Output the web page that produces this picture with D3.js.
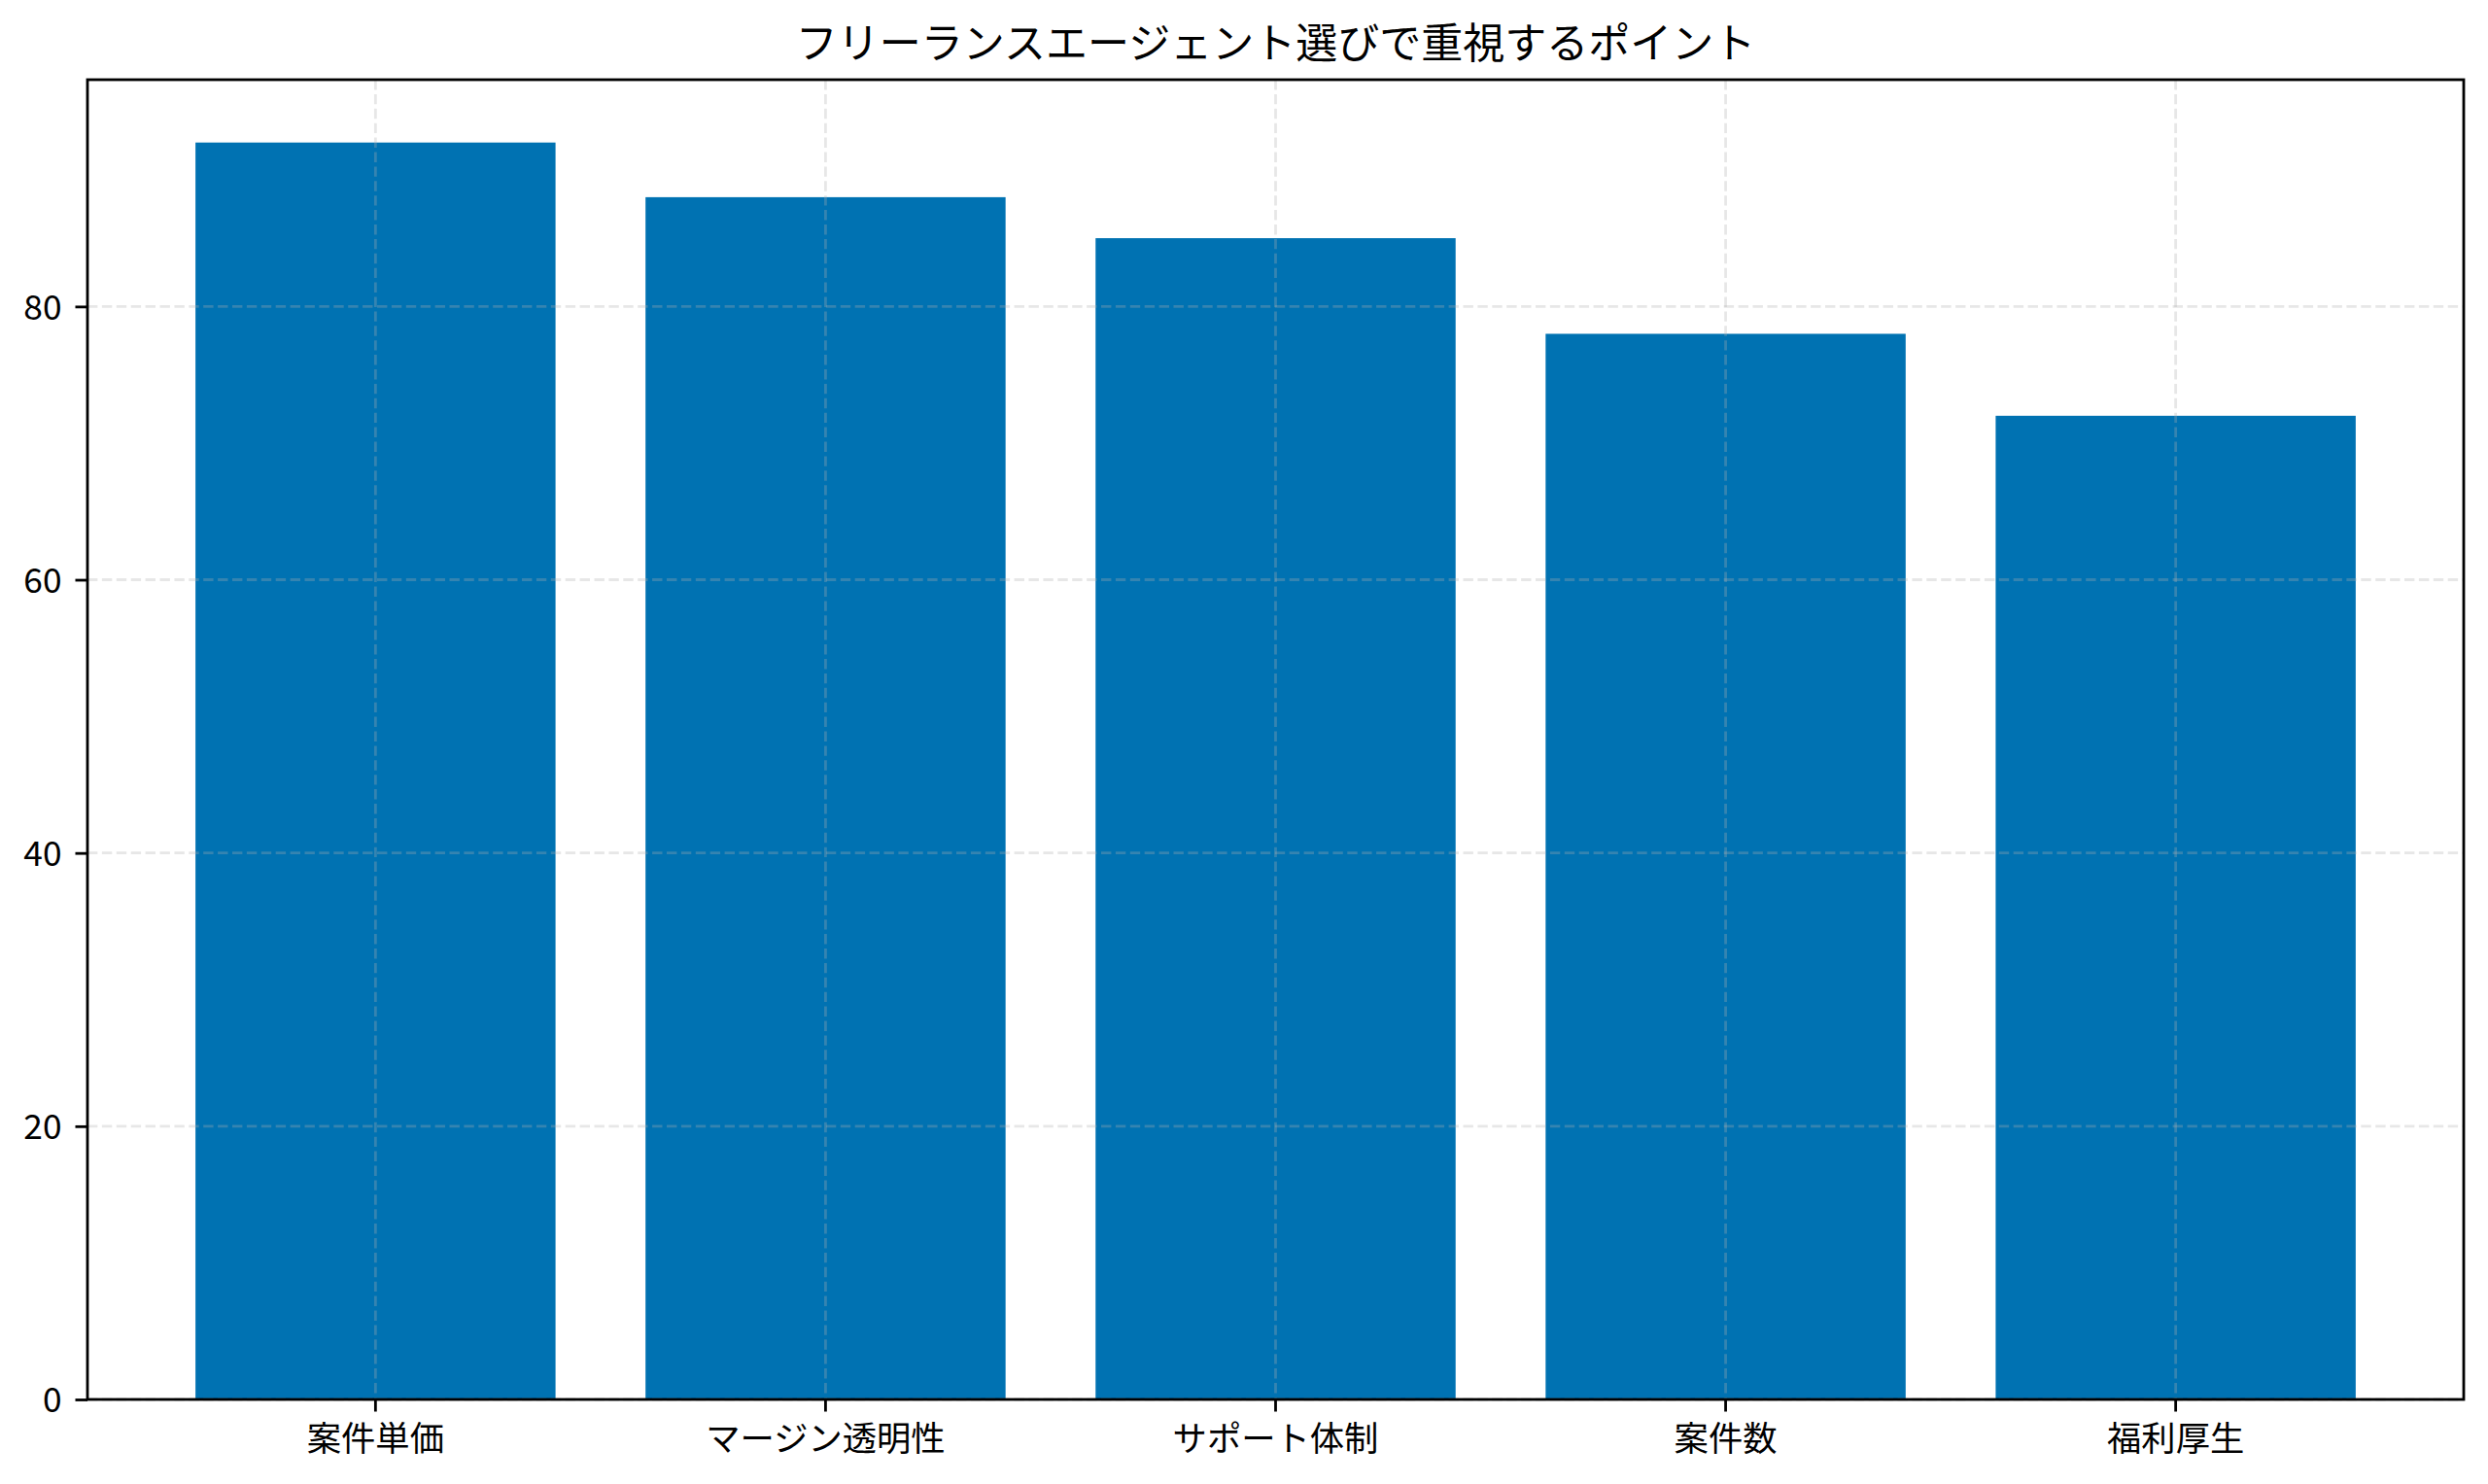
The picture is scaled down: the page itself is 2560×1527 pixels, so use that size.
<!DOCTYPE html>
<html>
<head>
    <meta charset="utf-8">
    <title>フリーランスエージェント選びで重視するポイント</title>
    <script src="https://d3js.org/d3.v7.min.js"></script>
    <style>
        body { margin: 0; background: #fff; }
        text { font-family: "Noto Sans CJK JP", "Noto Sans", sans-serif; fill: #000; }
    </style>
</head>
<body>
    <svg id="chart" width="2560" height="1527"></svg>
    <script>
        // data
        const categories = ["案件単価", "マージン透明性", "サポート体制", "案件数", "福利厚生"];
        const values = [92, 88, 85, 78, 72];
        const yTicks = [0, 20, 40, 60, 80];
        const title = "フリーランスエージェント選びで重視するポイント";

        const svg = d3.select("#chart"),
            width = +svg.attr("width"),
            height = +svg.attr("height");

        const margin = { top: 82, right: 25, bottom: 87, left: 90 };
        const innerW = width - margin.left - margin.right,
            innerH = height - margin.top - margin.bottom;

        // matplotlib-like spacing: bar width 0.8, 5% margins
        const x = d3.scaleBand()
            .domain(categories)
            .range([0, innerW])
            .paddingInner(0.2)
            .paddingOuter(0.24);

        const yMax = d3.max(values) * 1.05;
        const y = d3.scaleLinear()
            .domain([0, yMax])
            .range([innerH, 0]);

        const g = svg.append("g")
            .attr("transform", `translate(${margin.left},${margin.top})`);

        // bars
        g.append("g")
            .selectAll("rect")
            .data(values)
            .join("rect")
            .attr("x", (d, i) => x(categories[i]))
            .attr("y", d => y(d))
            .attr("width", x.bandwidth())
            .attr("height", d => y(0) - y(d))
            .attr("fill", "#0072B2");

        // grid (drawn over the bars, like the original)
        const grid = g.append("g")
            .attr("stroke", "#b0b0b0")
            .attr("stroke-opacity", 0.3)
            .attr("stroke-width", 2.8)
            .attr("stroke-dasharray", "10.4,4.5");

        grid.selectAll("line.h")
            .data(yTicks)
            .join("line")
            .attr("class", "h")
            .attr("x1", 0).attr("x2", innerW)
            .attr("y1", d => y(d)).attr("y2", d => y(d));

        grid.selectAll("line.v")
            .data(categories)
            .join("line")
            .attr("class", "v")
            .attr("x1", d => x(d) + x.bandwidth() / 2)
            .attr("x2", d => x(d) + x.bandwidth() / 2)
            .attr("y1", 0).attr("y2", innerH);

        // axes
        const yAxis = g.append("g")
            .call(d3.axisLeft(y).tickValues(yTicks).tickSize(12.5).tickPadding(14).tickSizeOuter(0));

        const xAxis = g.append("g")
            .attr("transform", `translate(0,${innerH})`)
            .call(d3.axisBottom(x).tickSize(12.5).tickPadding(12).tickSizeOuter(0));

        [yAxis, xAxis].forEach(ax => {
            ax.select(".domain").remove();
            ax.selectAll(".tick line").attr("stroke", "#000").attr("stroke-width", 2.8);
            ax.selectAll(".tick text").attr("font-size", 35.3).attr("fill", "#000");
        });
        yAxis.selectAll(".tick text").attr("dy", "0.36em");
        xAxis.selectAll(".tick text").attr("dy", "0.82em");

        // frame
        g.append("rect")
            .attr("x", 0).attr("y", 0)
            .attr("width", innerW).attr("height", innerH)
            .attr("fill", "none")
            .attr("stroke", "#000")
            .attr("stroke-width", 2.8);

        // title
        svg.append("text")
            .attr("x", margin.left + innerW / 2)
            .attr("y", 60)
            .attr("text-anchor", "middle")
            .attr("font-size", 43)
            .text(title);
    </script>
</body>
</html>
